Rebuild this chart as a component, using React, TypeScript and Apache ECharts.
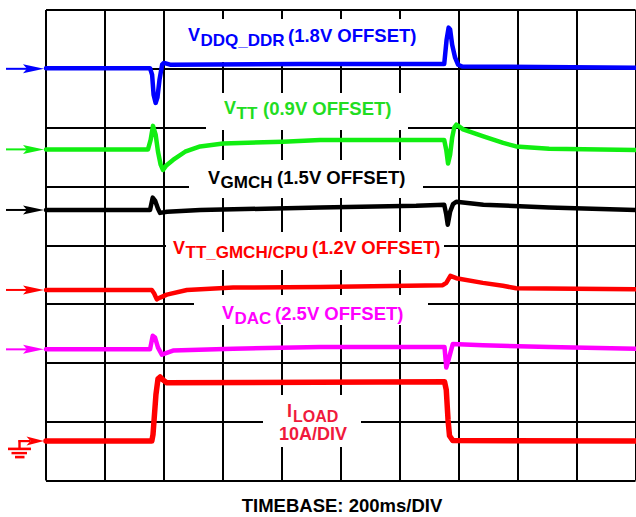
import React, { useEffect, useRef } from "react";
import * as echarts from "echarts";

// time axis: 0..2000 ms (200 ms/div); vertical: scope divisions 0..8
const timeMin = 0;
const timeMax = 2000;
const timeStep = 200;
const divMin = 0;
const divMax = 8;
const divStep = 1;

// [time ms, divisions]
const vddqDdr: [number, number][] = [
  [0, 7.01], [353, 7.01], [360, 6.9], [365, 6.56], [372, 6.42], [378, 6.51],
  [385, 6.81], [394, 7.07], [400, 7.1], [421, 7.07], [862, 7.08], [1351, 7.08],
  [1359, 7.49], [1366, 7.7], [1371, 7.67], [1378, 7.41], [1388, 7.19],
  [1398, 7.07], [1412, 7.04], [2000, 7.02],
];

const vtt: [number, number][] = [
  [0, 5.63], [346, 5.63], [355, 5.79], [363, 6.03], [372, 5.88], [380, 5.59],
  [389, 5.37], [397, 5.28], [407, 5.35], [431, 5.45], [472, 5.59], [523, 5.68],
  [601, 5.73], [804, 5.76], [930, 5.79], [1351, 5.79], [1358, 5.62], [1364, 5.39],
  [1371, 5.54], [1378, 5.83], [1385, 6.0], [1392, 6.05], [1402, 6.02],
  [1415, 5.97], [1484, 5.85], [1551, 5.74], [1595, 5.68], [1707, 5.64], [2000, 5.62],
];

const vgmch: [number, number][] = [
  [0, 4.6], [353, 4.6], [362, 4.81], [370, 4.76], [380, 4.62], [387, 4.55],
  [411, 4.57], [523, 4.6], [930, 4.64], [1256, 4.67], [1351, 4.69], [1358, 4.52],
  [1363, 4.35], [1371, 4.57], [1381, 4.7], [1392, 4.74], [1484, 4.69],
  [1707, 4.64], [2000, 4.6],
];

const vttGmchCpu: [number, number][] = [
  [0, 3.24], [359, 3.24], [367, 3.18], [376, 3.08], [387, 3.11], [410, 3.16],
  [478, 3.24], [635, 3.28], [930, 3.29], [1346, 3.32], [1358, 3.36], [1372, 3.48],
  [1392, 3.44], [1482, 3.36], [1550, 3.31], [1595, 3.27], [2000, 3.25],
];

const vdac: [number, number][] = [
  [0, 2.23], [353, 2.23], [362, 2.46], [370, 2.43], [380, 2.26], [393, 2.14],
  [431, 2.21], [635, 2.24], [930, 2.27], [1352, 2.27], [1358, 1.92], [1364, 2.02],
  [1380, 2.32], [1482, 2.3], [1707, 2.27], [2000, 2.24],
];

const iLoad: [number, number][] = [
  [0, 0.67], [359, 0.67], [363, 0.78], [373, 1.46], [380, 1.73], [387, 1.76],
  [397, 1.71], [410, 1.66], [1352, 1.68], [1358, 1.54], [1364, 1.03],
  [1369, 0.76], [1380, 0.68], [2000, 0.67],
];

// reference (offset) markers on the left, in divisions
const refLevels = [7.0, 5.63, 4.6, 3.24, 2.23, 0.67];
const traceColors = ["#0000ff", "#11ee11", "#000000", "#ff0000", "#ff00ff", "#ff0000"];
const traceNames = ["VDDQ_DDR", "VTT", "VGMCH", "VTT_GMCH/CPU", "VDAC", "ILOAD"];

const FAMILY = "'Liberation Sans', Arial, Helvetica, sans-serif";

export default function App() {
  const ref = useRef<HTMLDivElement>(null);

  useEffect(() => {
    document.body.style.margin = "0";
    const chart = echarts.init(ref.current!, null, { renderer: "svg" });
    const traces = [vddqDdr, vtt, vgmch, vttGmchCpu, vdac, iLoad];

    chart.setOption({
      animation: false,
      backgroundColor: "#ffffff",
      grid: { left: 46, top: 10, width: 589.5, height: 470.5 },
      xAxis: {
        type: "value",
        min: timeMin,
        max: timeMax,
        interval: timeStep,
        axisLabel: { show: false },
        axisTick: { show: false },
        axisLine: { show: false },
        splitLine: { show: true, showMinLine: true, showMaxLine: true, lineStyle: { color: "#000", width: 2 } },
      },
      yAxis: {
        type: "value",
        min: divMin,
        max: divMax,
        interval: divStep,
        axisLabel: { show: false },
        axisTick: { show: false },
        axisLine: { show: false },
        splitLine: { show: true, showMinLine: true, showMaxLine: true, lineStyle: { color: "#000", width: 2 } },
      },
      series: traces.map((d, i) => ({
        name: traceNames[i],
        type: "line",
        data: d,
        showSymbol: false,
        symbol: "none",
        silent: true,
        z: 2,
        color: traceColors[i],
        lineStyle: { color: traceColors[i], width: i === 5 ? 5.5 : 4.5, join: "round", cap: "round" },
      })),
    });

    const toY = (v: number) => (chart.convertToPixel({ gridIndex: 0 }, [0, v]) as number[])[1];

    const graphic: any[] = [];

    // white boxes behind the labels (they interrupt the graticule)
    const masks = [
      [180, 19, 250, 43],
      [206, 93, 202, 37],
      [189, 160, 234, 38],
      [166, 232, 278, 38],
      [194, 295, 234, 30],
      [263, 395, 98, 52],
    ];
    masks.forEach(([x, y, w, h]) =>
      graphic.push({ type: "rect", z: 1, silent: true, shape: { x, y, width: w, height: h }, style: { fill: "#ffffff" } })
    );

    // left-side reference arrows
    refLevels.forEach((lv, i) => {
      const y = toY(lv);
      const c = traceColors[i];
      if (i < 5) {
        graphic.push({ type: "line", z: 5, silent: true, shape: { x1: 6, y1: y, x2: 30, y2: y }, style: { stroke: c, lineWidth: 2 } });
      } else {
        graphic.push({ type: "line", z: 5, silent: true, shape: { x1: 18.5, y1: y, x2: 30, y2: y }, style: { stroke: c, lineWidth: 2.2 } });
        graphic.push({ type: "line", z: 5, silent: true, shape: { x1: 19.5, y1: y - 1, x2: 19.5, y2: y + 8 }, style: { stroke: c, lineWidth: 2.4 } });
        graphic.push({ type: "line", z: 5, silent: true, shape: { x1: 8, y1: y + 7.8, x2: 31, y2: y + 7.8 }, style: { stroke: c, lineWidth: 2.6 } });
        graphic.push({ type: "line", z: 5, silent: true, shape: { x1: 11.5, y1: y + 12, x2: 27, y2: y + 12 }, style: { stroke: c, lineWidth: 2.4 } });
        graphic.push({ type: "line", z: 5, silent: true, shape: { x1: 15, y1: y + 16, x2: 24.5, y2: y + 16 }, style: { stroke: c, lineWidth: 2.6 } });
      }
      const bx = i < 5 ? 23 : 26.5;
      graphic.push({
        type: "polygon",
        z: 5,
        silent: true,
        shape: { points: [[bx, y - 4.5], [44, y], [bx, y + 4.5], [bx + 4, y]] },
        style: { fill: c },
      });
    });

    const txt = (text: string, x: number, y: number, size: number, fill: string, align = "left") => ({
      type: "text",
      z: 10,
      silent: true,
      x,
      y,
      style: {
        text,
        fill,
        font: `bold ${size}px ${FAMILY}`,
        textAlign: align,
        textVerticalAlign: "middle",
        align,
        verticalAlign: "middle",
      },
    });

    const blue = "#0000ff";
    const green = "#22dd22";
    const black = "#000000";
    const red = "#ff0000";
    const mag = "#ff00ff";
    const loadRed = "#f01a3c";

    graphic.push(
      txt("V", 188, 35, 18, blue),
      txt("DDQ_DDR", 200.5, 40, 17, blue),
      txt("(1.8V OFFSET)", 288, 35, 18.5, blue),

      txt("V", 224, 108, 18, green),
      txt("TT", 236.5, 113, 17, green),
      txt("(0.9V OFFSET)", 263, 108, 18.5, green),

      txt("V", 208, 177.5, 18, black),
      txt("GMCH", 220.5, 182, 17, black),
      txt("(1.5V OFFSET)", 277, 177.5, 18.5, black),

      txt("V", 173, 247.5, 18, red),
      txt("TT_GMCH/CPU", 185.5, 252, 17, red),
      txt("(1.2V OFFSET)", 312, 247.5, 18.5, red),

      txt("V", 222, 313, 18, mag),
      txt("DAC", 234.5, 318, 17, mag),
      txt("(2.5V OFFSET)", 275, 313, 18.5, mag),

      txt("I", 287, 411, 18, loadRed),
      txt("LOAD", 293, 416.5, 16, loadRed),
      txt("10A/DIV", 313, 433.5, 18, loadRed, "center"),

      txt("TIMEBASE: 200ms/DIV", 342, 505, 18.5, black, "center")
    );

    chart.setOption({ graphic });

    return () => chart.dispose();
  }, []);

  return <div ref={ref} style={{ width: 636, height: 517 }} />;
}
